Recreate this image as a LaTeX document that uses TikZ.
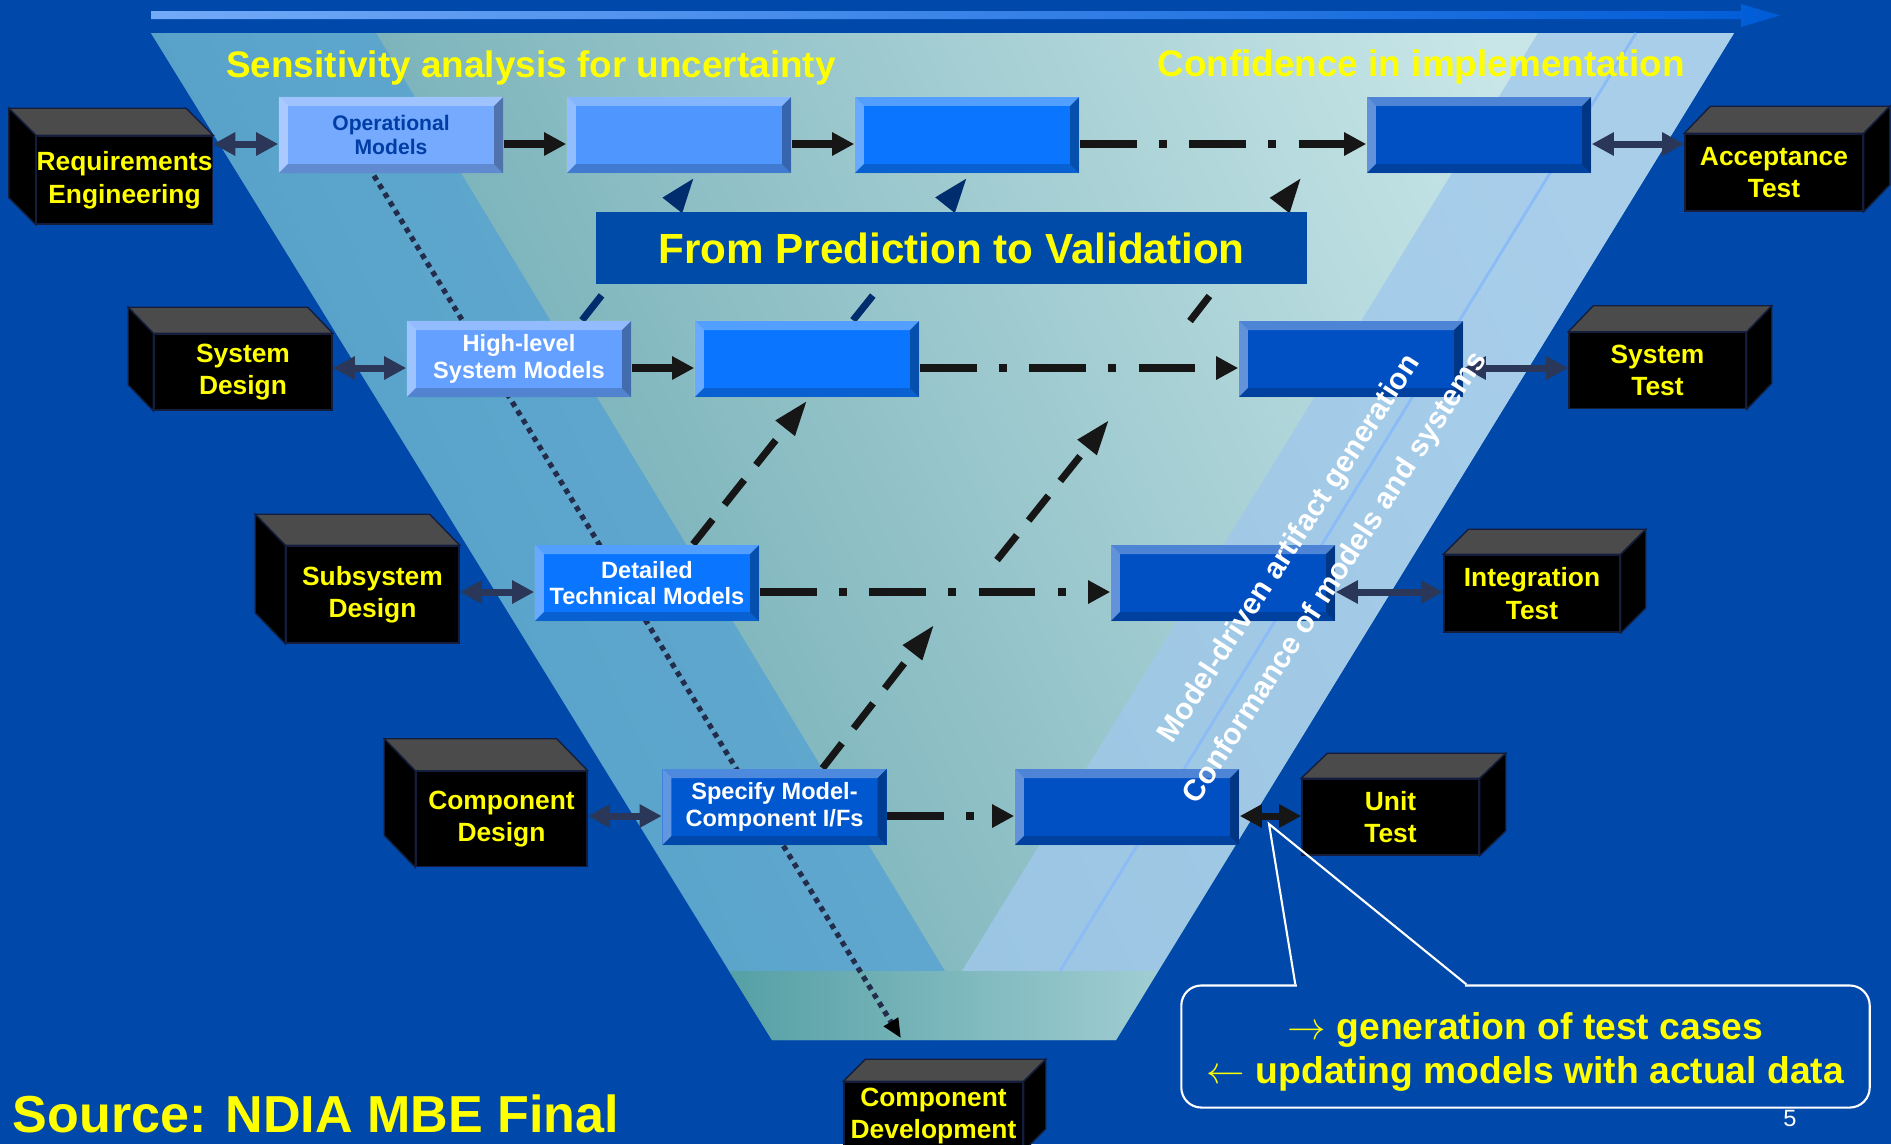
\documentclass[tikz,border=0pt]{standalone}
\usepackage{fontspec}
\setmainfont{Liberation Sans}
\usetikzlibrary{arrows.meta,positioning}

\definecolor{bgblue}{RGB}{0,72,170}
\definecolor{arrlight}{RGB}{115,170,248}
\definecolor{arrdark}{RGB}{0,92,215}
\definecolor{vdark}{RGB}{95,160,170}
\definecolor{vlight}{RGB}{200,230,232}
\definecolor{lband}{RGB}{80,160,212}
\definecolor{rband}{RGB}{160,200,235}
\definecolor{rline}{RGB}{140,188,245}
\definecolor{stripL}{RGB}{85,160,165}
\definecolor{stripR}{RGB}{160,205,210}
\definecolor{opface}{RGB}{118,170,255}
\definecolor{optext}{RGB}{0,62,165}
\definecolor{hlface}{RGB}{100,160,255}
\definecolor{lightface}{RGB}{80,150,255}
\definecolor{midface}{RGB}{10,118,255}
\definecolor{darkface}{RGB}{0,80,196}
\definecolor{spface}{RGB}{0,88,208}
\definecolor{titlebg}{RGB}{0,74,168}
\definecolor{flowblk}{RGB}{22,22,22}
\definecolor{slate}{RGB}{42,55,88}
\definecolor{navy}{RGB}{0,45,110}
\definecolor{dotcol}{RGB}{35,45,75}
\definecolor{cubegray}{RGB}{75,75,75}
\definecolor{cubeedge}{RGB}{20,30,60}
\definecolor{ylw}{RGB}{255,255,0}

\pgfdeclarelayer{back}
\pgfdeclarelayer{lines}
\pgfsetlayers{back,lines,main}

% bevel of the model boxes
\newcommand{\mbevel}{%
  \coordinate (bnw) at (path picture bounding box.north west);
  \coordinate (bne) at (path picture bounding box.north east);
  \coordinate (bsw) at (path picture bounding box.south west);
  \coordinate (bse) at (path picture bounding box.south east);
  \fill[white,opacity=.3] (bnw) -- (bne) -- ([shift={(-0.09cm,-0.09cm)}]bne) -- ([shift={(0.09cm,-0.09cm)}]bnw) -- cycle;
  \fill[white,opacity=.38] (bnw) -- ([shift={(0.09cm,-0.09cm)}]bnw) -- ([shift={(0.09cm,0.09cm)}]bsw) -- (bsw) -- cycle;
  \fill[black,opacity=.18] (bsw) -- ([shift={(0.09cm,0.09cm)}]bsw) -- ([shift={(-0.09cm,0.09cm)}]bse) -- (bse) -- cycle;
  \fill[black,opacity=.32] (bse) -- ([shift={(-0.09cm,0.09cm)}]bse) -- ([shift={(-0.09cm,-0.09cm)}]bne) -- (bne) -- cycle;
}

% top and side faces of a cube node
\newcommand{\cubefaces}[4]{%
  \fill[cubetop] (#1.north west) -- (#1.north east) -- ++(#2,#3) -- ([shift={(#2,#3)}]#1.north west) -- cycle;
  \fill[cubeside] (#1.north #4) -- ++(#2,#3) -- ([shift={(#2,#3)}]#1.south #4) -- (#1.south #4) -- cycle;
}

\tikzset{
  cube/.style={fill=black, draw=cubeedge, line width=0.4pt, text=ylw, align=center, inner sep=0pt,
    font=\bfseries\fontsize{7.5}{9.25}\selectfont},
  cubetop/.style={fill=cubegray, draw=cubeedge, line width=0.4pt},
  cubeside/.style={fill=black, draw=cubeedge, line width=0.4pt},
  mbox/.style={fill=#1, minimum width=2.24cm, minimum height=0.76cm, inner sep=0pt, align=center,
    text=white, font=\bfseries\fontsize{6.7}{7.5}\selectfont, path picture={\mbevel}},
  titlebox/.style={fill=titlebg, minimum width=7.11cm, minimum height=0.72cm, inner sep=0pt,
    text=ylw, font=\bfseries\fontsize{12}{14}\selectfont},
  toptext/.style={text=ylw, inner sep=0pt, font=\bfseries\fontsize{10.5}{12}\selectfont},
  rottext/.style={text=white, inner sep=0pt, rotate=57, font=\bfseries\fontsize{8.5}{10}\selectfont},
  flow/.style={draw=flowblk, line width=2.1pt, -{Triangle[length=6.3pt,width=6.3pt]}},
  dashdotline/.style={dash pattern=on 16.2pt off 6.3pt on 2.3pt off 6.3pt},
  dbl/.style={draw=slate, line width=2pt, {Triangle[length=6.3pt,width=6.3pt]}-{Triangle[length=6.3pt,width=6.3pt]}},
  vdash/.style={draw=flowblk, line width=2pt, dash pattern=on 9pt off 5.4pt, -{Triangle[length=10pt,width=6.5pt]}},
  dotline/.style={draw=dotcol, line width=1.5pt, dash pattern=on 1.5pt off 1.4pt, -{Triangle[length=5.5pt,width=4.5pt,black]}},
  note/.style={draw=white, line width=0.6pt, rounded corners=0.2cm, minimum width=6.88cm, minimum height=1.22cm,
    inner sep=0pt},
  notetext/.style={inner sep=0pt, align=center, text=ylw, font=\bfseries\fontsize{10.6}{12.5}\selectfont}
}

\begin{document}
\begin{tikzpicture}[x=0.01cm,y=-0.01cm]
\useasboundingbox (0,0) rectangle (1891,1144);

\begin{pgfonlayer}{back}
\fill[bgblue] (0,0) rectangle (1891,1144);
\shade[left color=arrlight, right color=arrdark] (151,11) -- (1741,11) -- (1741,4) -- (1780,15.5) -- (1741,27) -- (1741,19) -- (151,19) -- cycle;

% the V
\shade[left color=vdark, right color=vlight, shading angle=115] (151,33) -- (1734,33) -- (1116,1040) -- (772,1040) -- cycle;
\fill[lband, opacity=.7] (151,33) -- (376,33) -- (945,971) -- (729,971) -- cycle;
\fill[rband, opacity=.8] (1538,33) -- (1734,33) -- (1158,971) -- (962,971) -- cycle;
\draw[rline, line width=0.8pt] (1636,33) -- (1060,971);
\shade[left color=stripL, right color=stripR] (729,971) -- (1158,971) -- (1116,1040) -- (772,1040) -- cycle;

\node[toptext, anchor=base] (sens) at (531,77) {Sensitivity analysis for uncertainty};
\node[toptext, anchor=base] (conf) at (1421,76) {Confidence in implementation};
\end{pgfonlayer}

% model boxes
\node[mbox=opface, text=optext, font=\bfseries\fontsize{6}{6.6}\selectfont] (op) at (391,135) {Operational\\Models};
\node[mbox=lightface] (b12) at (679,135) {};
\node[mbox=midface] (b13) at (967,135) {};
\node[mbox=darkface] (b14) at (1479,135) {};

\node[mbox=hlface] (hl) at (519,359) {High-level\\System Models};
\node[mbox=midface] (b22) at (807,359) {};
\node[mbox=darkface] (b23) at (1351,359) {};

\node[mbox=midface] (dt) at (647,583) {Detailed\\Technical Models};
\node[mbox=darkface] (b32) at (1223,583) {};

\node[mbox=spface] (sp) at (774.5,807) {Specify Model-\\Component I/Fs};
\node[mbox=darkface] (b42) at (1127,807) {};

\node[titlebox] (title) at (951.5,248) {From Prediction to Validation};

% cubes
\node[cube, minimum width=1.75cm, minimum height=0.88cm] (req) at (124.5,180) {Requirements\\Engineering};
\cubefaces{req}{-0.27cm}{0.27cm}{west}
\node[cube, minimum width=1.78cm, minimum height=0.76cm] (sysd) at (243,372) {System\\Design};
\cubefaces{sysd}{-0.25cm}{0.26cm}{west}
\node[cube, minimum width=1.73cm, minimum height=0.97cm] (subd) at (372.5,594.5) {Subsystem\\Design};
\cubefaces{subd}{-0.3cm}{0.31cm}{west}
\node[cube, minimum width=1.71cm, minimum height=0.95cm] (compd) at (501.5,819) {Component\\Design};
\cubefaces{compd}{-0.31cm}{0.32cm}{west}

\node[cube, minimum width=1.78cm, minimum height=0.77cm] (acct) at (1774,172.5) {Acceptance\\Test};
\cubefaces{acct}{0.26cm}{0.27cm}{east}
\node[cube, minimum width=1.77cm, minimum height=0.76cm] (syst) at (1657.5,370.5) {System\\Test};
\cubefaces{syst}{0.25cm}{0.26cm}{east}
\node[cube, minimum width=1.76cm, minimum height=0.77cm] (intt) at (1532,593.5) {Integration\\Test};
\cubefaces{intt}{0.25cm}{0.25cm}{east}
\node[cube, minimum width=1.77cm, minimum height=0.76cm] (unitt) at (1390.5,817) {Unit\\Test};
\cubefaces{unitt}{0.26cm}{0.25cm}{east}
\node[cube, minimum width=1.79cm, minimum height=0.68cm] (cdev) at (933.5,1116) {Component\\Development};
\cubefaces{cdev}{0.22cm}{0.22cm}{east}

% dotted and diagonal dashed arrows, under the boxes
\coordinate (c1) at (934,625);
\coordinate (c2) at (997,560);
\coordinate (c3) at (1109,420);
\coordinate (c4) at (1190,321);
\begin{pgfonlayer}{lines}
\draw[dotline] ([xshift=-0.17cm,yshift=-0.02cm]op.south) -- ([shift={(-0.325cm,0.43cm)}]cdev.north);
\draw[vdash] ([xshift=0.48cm]sp.north) -- (c1);
\draw[vdash] (c2) -- (c3);
\draw[vdash] (c4) -- ([shift={(-0.65cm,-0.04cm)}]b14.south west);
\draw[vdash] ([xshift=0.46cm]dt.north) -- ([yshift=-0.03cm]b22.south);
\draw[vdash, draw=navy] ([xshift=0.46cm]b22.north) -- ([yshift=-0.04cm]b13.south);
\draw[vdash, draw=navy] ([xshift=0.63cm]hl.north) -- ([shift={(0.15cm,-0.04cm)}]b12.south);
\end{pgfonlayer}

% flow along the rows
\draw[flow] ([yshift=-0.09cm]op.east) -- ([yshift=-0.09cm]b12.west);
\draw[flow] ([yshift=-0.09cm]b12.east) -- ([yshift=-0.09cm]b13.west);
\draw[flow, dashdotline] ([yshift=-0.09cm]b13.east) -- ([yshift=-0.09cm]b14.west);
\draw[flow] ([yshift=-0.09cm]hl.east) -- ([yshift=-0.09cm]b22.west);
\draw[flow, dashdotline] ([yshift=-0.09cm]b22.east) -- ([yshift=-0.09cm]b23.west);
\draw[flow, dashdotline] ([yshift=-0.09cm]dt.east) -- ([yshift=-0.09cm]b32.west);
\draw[flow, dashdotline] ([yshift=-0.09cm]sp.east) -- ([yshift=-0.09cm]b42.west);

% cubes <-> boxes
\draw[dbl] ([yshift=-0.09cm]req.east |- op.west) -- ([yshift=-0.09cm]op.west);
\draw[dbl] ([yshift=-0.09cm]sysd.east |- hl.west) -- ([yshift=-0.09cm]hl.west);
\draw[dbl] ([yshift=-0.09cm]subd.east |- dt.west) -- ([yshift=-0.09cm]dt.west);
\draw[dbl] ([yshift=-0.09cm]compd.east |- sp.west) -- ([yshift=-0.09cm]sp.west);
\draw[dbl] ([yshift=-0.09cm]b14.east) -- ([yshift=-0.09cm]acct.west |- b14.east);
\draw[dbl] ([yshift=-0.09cm]b23.east) -- ([yshift=-0.09cm]syst.west |- b23.east);
\draw[dbl] ([yshift=-0.09cm]b32.east) -- ([yshift=-0.09cm]intt.west |- b32.east);
\draw[dbl, draw=flowblk] ([yshift=-0.09cm]b42.east) -- ([yshift=-0.09cm]unitt.west |- b42.east);

\node[rottext] (mdag) at (1290,549) {Model-driven artifact generation};
\node[rottext] (conm) at (1336,578) {Conformance of models and systems};

% callout
\node[note] (note) at (1525.5,1046.5) {};
\node[notetext] (notetxt) at ([yshift=-0.05cm]note.center) {$\rightarrow$ generation of test cases\\$\leftarrow$ updating models with actual data};
\coordinate (tip) at (1269,824);
\draw[bgblue, line width=1.4pt, shorten <=0.4pt, shorten >=0.4pt] ([xshift=1.15cm]note.north west) -- ([xshift=2.86cm]note.north west);
\draw[white, line width=0.6pt] ([xshift=1.15cm]note.north west) -- (tip) -- ([xshift=2.86cm]note.north west);

\node[text=ylw, anchor=west, inner sep=0pt, font=\bfseries\fontsize{14.8}{18}\selectfont] (src) at (12,1114) {Source: NDIA MBE Final};
\node[text=white, inner sep=0pt, font=\fontsize{6.7}{8}\selectfont] (pgno) at (1790,1118) {5};

\end{tikzpicture}
\end{document}
